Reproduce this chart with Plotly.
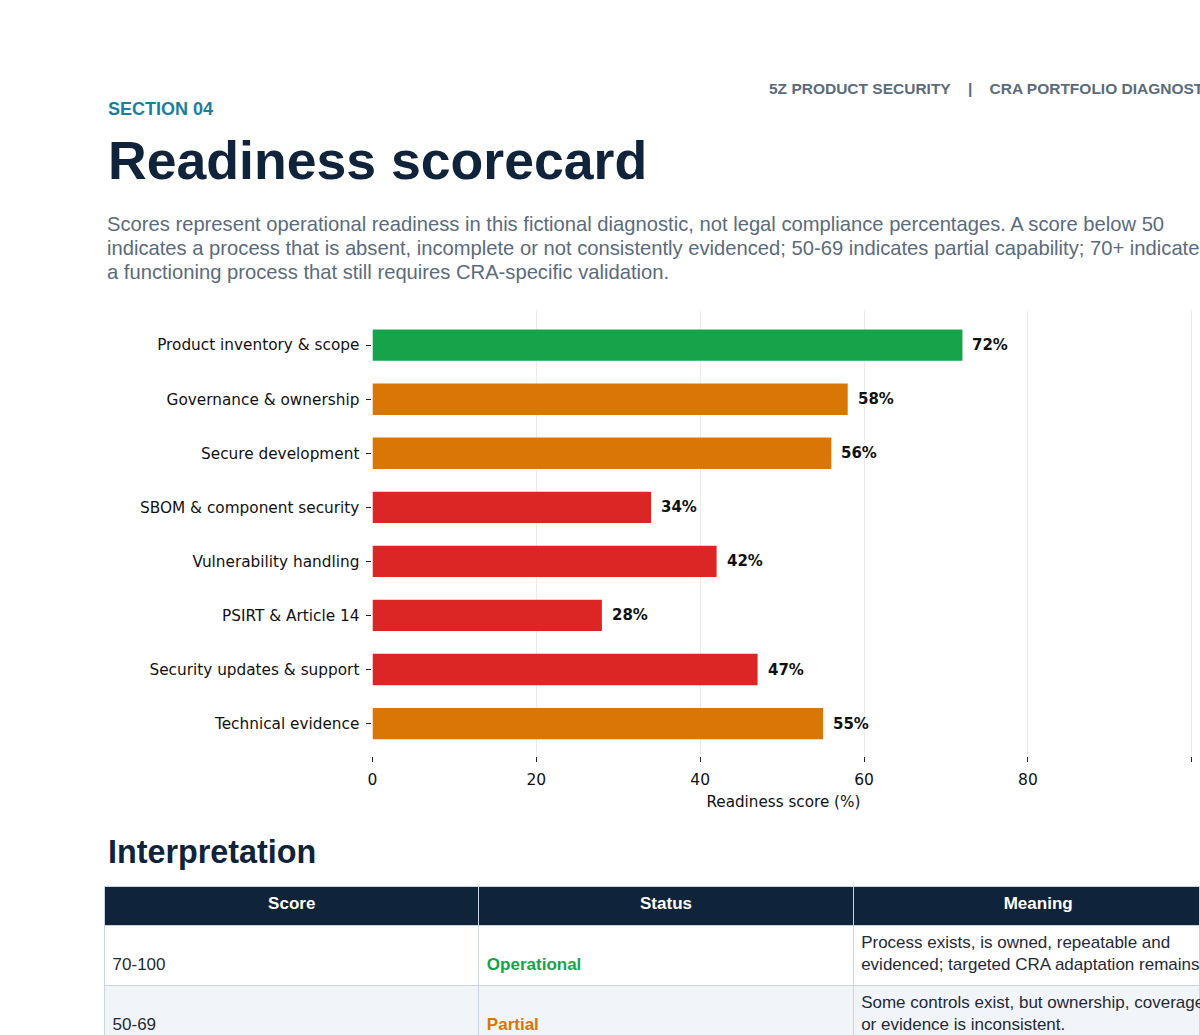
import plotly.graph_objects as go

# readiness scores per domain (top to bottom as in the report)
domains = [
    "Product inventory & scope",
    "Governance & ownership",
    "Secure development",
    "SBOM & component security",
    "Vulnerability handling",
    "PSIRT & Article 14",
    "Security updates & support",
    "Technical evidence",
]
scores = [72, 58, 56, 34, 42, 28, 47, 55]
x_ticks = [0, 20, 40, 60, 80, 100]

# interpretation table
score_bands = ["70-100", "50-69"]
status_labels = ["Operational", "Partial"]
meanings = [
    "Process exists, is owned, repeatable and<br>evidenced; targeted CRA adaptation remains.",
    "Some controls exist, but ownership, coverage<br>or evidence is inconsistent.",
]

intro_lines = [
    "Scores represent operational readiness in this fictional diagnostic, not legal compliance percentages. A score below 50",
    "indicates a process that is absent, incomplete or not consistently evidenced; 50-69 indicates partial capability; 70+ indicates",
    "a functioning process that still requires CRA-specific validation.",
]

GREEN = "#16a34a"
ORANGE = "#d97706"
RED = "#dc2626"
NAVY = "#0f233a"
GREY = "#5b6b7b"
W, H = 1200, 1035


def band_color(v):
    if v >= 70:
        return GREEN
    if v >= 50:
        return ORANGE
    return RED


def py(px):
    # page pixel -> paper coordinate
    return 1 - px / H


def px_(x):
    return x / W


fig = go.Figure()

fig.add_trace(go.Bar(
    x=scores,
    y=domains,
    orientation="h",
    width=0.58,
    marker=dict(color=[band_color(v) for v in scores], line=dict(width=0)),
    hoverinfo="skip",
))

# value labels next to the bars
for d, v in zip(domains, scores):
    fig.add_annotation(
        x=v, y=d, xref="x", yref="y", text=f"<b>{v}%</b>",
        showarrow=False, xanchor="left", xshift=8,
        font=dict(family="DejaVu Sans", size=15, color="#111111"),
    )

NB = "\u00a0"
fig.add_trace(go.Table(
    domain=dict(x=[px_(100), 1.0], y=[0, py(886)]),
    columnwidth=[376, 376, 348],
    header=dict(
        values=["<b>Score</b>", "<b>Status</b>", NB * 5 + "<b>Meaning</b>"],
        fill_color=NAVY,
        line_color="#cbd5e1",
        font=dict(family="Liberation Sans", size=17, color="white"),
        align="center",
        height=39,
    ),
    cells=dict(
        values=[
            [NB + "<br>" + s for s in score_bands],
            [NB + "<br><b>" + s + "</b>" for s in status_labels],
            meanings,
        ],
        fill_color=[["#ffffff", "#f1f5f9"]] * 3,
        line_color="#cbd5e1",
        font=dict(
            family="Liberation Sans", size=17,
            color=[["#1f2937"] * 2, [GREEN, ORANGE], ["#1f2937"] * 2],
        ),
        align="left",
        height=60,
    ),
))

# page text
fig.add_annotation(
    x=px_(765), y=py(89), xref="paper", yref="paper", xanchor="left", yanchor="middle",
    text="<b>5Z PRODUCT SECURITY" + NB * 4 + "|" + NB * 4 + "CRA PORTFOLIO DIAGNOSTIC</b>",
    showarrow=False, font=dict(family="Liberation Sans", size=15.5, color=GREY),
)
fig.add_annotation(
    x=px_(101), y=py(109), xref="paper", yref="paper", xanchor="left", yanchor="middle",
    text="<b>SECTION 04</b>", showarrow=False,
    font=dict(family="Liberation Sans", size=18, color="#1a7f9c"),
)
fig.add_annotation(
    x=px_(101), y=py(160), xref="paper", yref="paper", xanchor="left", yanchor="middle",
    text="<b>Readiness scorecard</b>", showarrow=False,
    font=dict(family="Liberation Sans", size=53.6, color=NAVY),
)
for i, line in enumerate(intro_lines):
    fig.add_annotation(
        x=px_(100), y=py(224 + 24 * i), xref="paper", yref="paper",
        xanchor="left", yanchor="middle", align="left", showarrow=False,
        text=line, font=dict(family="Liberation Sans", size=20.2, color=GREY),
    )
fig.add_annotation(
    x=px_(101), y=py(852), xref="paper", yref="paper", xanchor="left", yanchor="middle",
    text="<b>Interpretation</b>", showarrow=False,
    font=dict(family="Liberation Sans", size=32.3, color=NAVY),
)

fig.update_xaxes(
    domain=[px_(369), px_(1194.3)],
    range=[0, 100.3],
    tickvals=x_ticks,
    showgrid=True, gridcolor="#ececec", gridwidth=1,
    zeroline=False, showline=False,
    ticks="outside", ticklen=5, tickcolor="#222222",
    ticklabelstandoff=4,
    tickfont=dict(family="DejaVu Sans", size=15.5, color="#111111"),
    title=dict(text="Readiness score (%)", standoff=8,
               font=dict(family="DejaVu Sans", size=15.2, color="#111111")),
)
fig.update_yaxes(
    domain=[py(756), py(310)],
    range=[len(domains) - 0.4, -0.65],
    showgrid=False, zeroline=False, showline=False,
    ticks="outside", ticklen=5, tickcolor="#222222",
    ticklabelstandoff=4,
    tickfont=dict(family="DejaVu Sans", size=15.3, color="#111111"),
)

fig.update_layout(
    width=W, height=H,
    margin=dict(l=0, r=0, t=0, b=0),
    paper_bgcolor="white", plot_bgcolor="white",
    showlegend=False,
)

fig.write_html(
    "out.html",
    config={"displayModeBar": False},
    post_script="document.body.style.margin='0';",
)
